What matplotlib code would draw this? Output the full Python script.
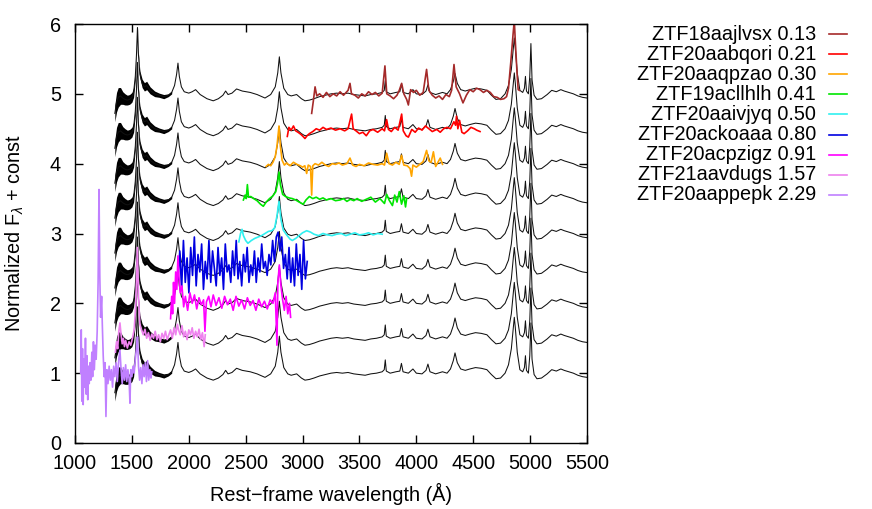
import matplotlib
matplotlib.use("Agg")
import matplotlib.pyplot as plt
from matplotlib.lines import Line2D

plt.rcParams['font.family'] = ['Liberation Sans', 'DejaVu Sans']
plt.rcParams['font.size'] = 14.3
plt.rcParams['mathtext.fontset'] = 'custom'
plt.rcParams['mathtext.rm'] = 'Liberation Sans'
plt.rcParams['mathtext.it'] = 'Liberation Sans:italic'

# composite template (offset 0), repeated with +0.5 steps
tmpl_wave = [1350, 1365, 1380, 1400, 1420, 1440, 1460, 1480, 1500, 1515, 1530, 1540, 1549, 1558, 1570,
             1590, 1610, 1630, 1660, 1700, 1740, 1780, 1820, 1850, 1875, 1893, 1905, 1917, 1935, 1960,
             2000, 2030, 2060, 2100, 2160, 2215, 2260, 2300, 2324, 2345, 2380, 2420, 2470, 2540, 2600,
             2670, 2720, 2760, 2782, 2796, 2810, 2835, 2870, 2900, 2948, 2990, 3021, 3060, 3100, 3150,
             3200, 3250, 3300, 3350, 3400, 3450, 3500, 3550, 3600, 3650, 3700, 3718, 3727, 3736, 3770,
             3820, 3855, 3869, 3883, 3930, 3970, 4000, 4050, 4085, 4102, 4120, 4170, 4230, 4270, 4300,
             4325, 4340, 4360, 4390, 4430, 4470, 4520, 4570, 4620, 4660, 4700, 4740, 4780, 4810, 4835,
             4852, 4861, 4870, 4887, 4910, 4935, 4950, 4959, 4968, 4985, 4997, 5007, 5017, 5035, 5060,
             5100, 5150, 5190, 5230, 5270, 5300, 5340, 5380, 5420, 5460, 5500]
tmpl_flux = [0.72, 0.88, 0.95, 0.97, 0.94, 0.92, 0.91, 0.92, 0.95, 1.02, 1.25, 1.55, 1.95, 1.55, 1.28,
             1.15, 1.10, 1.12, 1.05, 1.00, 0.98, 0.96, 0.98, 1.02, 1.12, 1.28, 1.44, 1.25, 1.10, 1.03,
             1.01, 1.03, 1.06, 0.99, 0.93, 0.90, 0.93, 0.98, 1.04, 0.99, 1.01, 1.07, 1.04, 1.02, 0.99,
             0.94, 0.99, 1.10, 1.30, 1.53, 1.30, 1.08, 0.99, 0.97, 0.99, 0.93, 0.90, 0.91, 0.93, 0.96,
             0.98, 1.00, 1.01, 1.00, 1.01, 0.99, 0.98, 0.97, 0.99, 1.00, 1.02, 1.05, 1.19, 1.03, 1.00,
             1.02, 1.03, 1.14, 1.02, 1.00, 1.06, 1.00, 0.99, 1.04, 1.13, 1.02, 0.99, 1.02, 1.00, 1.06,
             1.18, 1.29, 1.15, 1.06, 1.04, 1.06, 1.08, 1.07, 1.05, 0.98, 0.92, 0.93, 1.00, 1.12, 1.35,
             1.65, 1.80, 1.65, 1.30, 1.05, 1.02, 1.08, 1.25, 1.04, 1.00, 1.25, 1.72, 1.20, 0.98, 0.92,
             0.93, 0.99, 1.05, 1.03, 1.06, 1.04, 1.02, 1.00, 0.97, 0.95, 0.94]
# noisy blue end of the template (envelope)
band_wave = [1350, 1365, 1380, 1400, 1420, 1440, 1460, 1480, 1500, 1515, 1530, 1540, 1549, 1558, 1570,
             1590, 1610, 1630, 1660, 1700, 1740, 1780, 1820, 1850]
band_lo = [0.60, 0.74, 0.81, 0.85, 0.85, 0.84, 0.84, 0.85, 0.88, 0.95, 1.20, 1.52, 1.93, 1.52, 1.23,
           1.09, 1.04, 1.06, 1.00, 0.96, 0.95, 0.93, 0.96, 1.00]
band_hi = [0.84, 1.02, 1.09, 1.09, 1.03, 1.00, 0.98, 0.99, 1.02, 1.09, 1.30, 1.58, 1.97, 1.58, 1.33,
           1.21, 1.16, 1.18, 1.10, 1.04, 1.01, 0.99, 1.00, 1.04]
offsets = [0.0, 0.5, 1.0, 1.5, 2.0, 2.5, 3.0, 3.5, 4.0]

# ZTF spectra
brown_wave = [3080, 3095, 3110, 3125, 3150, 3180, 3210, 3240, 3270, 3300, 3330, 3360, 3400, 3417, 3430,
              3460, 3490, 3520, 3550, 3580, 3610, 3640, 3670, 3700, 3724, 3740, 3770, 3800, 3830, 3850,
              3871, 3890, 3915, 3930, 3950, 3975, 4000, 4030, 4060, 4090, 4110, 4140, 4170, 4200, 4230,
              4260, 4290, 4310, 4331, 4350, 4380, 4410, 4440, 4470, 4500, 4530, 4559, 4590, 4620, 4650,
              4680, 4710, 4740, 4770, 4793, 4810, 4830, 4850, 4861, 4870, 4885, 4895, 4905]
brown_flux = [4.72, 4.90, 5.10, 4.97, 5.00, 4.95, 5.02, 4.96, 5.00, 4.97, 5.03, 4.98, 5.05, 5.15, 5.00,
              4.98, 4.94, 5.00, 4.97, 5.03, 4.99, 5.02, 4.97, 5.01, 5.40, 5.00, 4.97, 4.93, 4.98, 5.05,
              5.15, 5.00, 4.92, 4.84, 5.06, 5.02, 5.05, 4.98, 5.02, 5.35, 5.05, 4.98, 4.94, 4.97, 4.92,
              4.99, 4.96, 5.05, 5.42, 5.10, 5.00, 4.87, 4.98, 5.06, 5.03, 5.08, 5.06, 5.02, 5.05, 5.02,
              4.96, 4.95, 4.92, 4.93, 4.96, 5.08, 5.45, 5.85, 6.05, 5.75, 5.30, 5.06, 5.05]

red_wave = [2866, 2880, 2900, 2920, 2940, 2960, 2985, 3010, 3021, 3040, 3060, 3090, 3120, 3150, 3180,
            3210, 3250, 3290, 3330, 3370, 3400, 3431, 3445, 3470, 3500, 3530, 3560, 3590, 3620, 3660,
            3700, 3720, 3739, 3755, 3780, 3810, 3840, 3871, 3885, 3910, 3930, 3960, 3990, 4020, 4050,
            4080, 4110, 4140, 4180, 4210, 4240, 4270, 4300, 4330, 4345, 4353, 4365, 4380, 4400, 4420,
            4450, 4480, 4510, 4530, 4560]
red_flux = [4.39, 4.52, 4.48, 4.54, 4.47, 4.45, 4.42, 4.38, 4.36, 4.40, 4.43, 4.46, 4.50, 4.48, 4.52,
            4.49, 4.51, 4.48, 4.50, 4.47, 4.50, 4.71, 4.50, 4.47, 4.43, 4.45, 4.40, 4.47, 4.49, 4.45,
            4.50, 4.47, 4.63, 4.49, 4.46, 4.52, 4.48, 4.71, 4.47, 4.40, 4.38, 4.49, 4.45, 4.51, 4.48,
            4.54, 4.50, 4.46, 4.49, 4.45, 4.50, 4.52, 4.50, 4.60, 4.55, 4.68, 4.50, 4.62, 4.45, 4.43,
            4.47, 4.52, 4.50, 4.48, 4.46]

orange_wave = [2680, 2700, 2720, 2740, 2760, 2775, 2793, 2805, 2820, 2840, 2860, 2890, 2920, 2950, 2980,
               3000, 3020, 3036, 3050, 3070, 3080, 3090, 3110, 3140, 3170, 3200, 3230, 3260, 3290, 3320,
               3350, 3390, 3417, 3440, 3470, 3500, 3540, 3580, 3620, 3660, 3700, 3720, 3739, 3760, 3790,
               3820, 3850, 3870, 3890, 3920, 3945, 3958, 3970, 4000, 4030, 4060, 4090, 4110, 4130, 4150,
               4170, 4190, 4210, 4230]
orange_flux = [3.96, 3.99, 3.97, 4.02, 4.10, 4.25, 4.54, 4.25, 4.05, 3.98, 4.01, 3.97, 4.02, 3.99, 3.97,
               3.95, 3.97, 3.86, 3.98, 3.96, 3.55, 3.97, 4.00, 3.98, 4.02, 3.98, 3.96, 4.00, 3.99, 4.01,
               3.98, 4.00, 4.08, 3.98, 3.96, 3.99, 3.97, 4.01, 3.99, 3.98, 4.00, 3.98, 4.15, 4.00, 3.98,
               4.02, 3.99, 4.12, 3.98, 3.97, 3.93, 3.82, 3.98, 3.95, 3.99, 4.03, 4.19, 4.04, 4.02, 4.17,
               3.96, 4.02, 4.08, 3.99]

green_wave = [2480, 2495, 2505, 2515, 2525, 2545, 2570, 2600, 2630, 2655, 2680, 2710, 2740, 2765, 2780,
              2793, 2805, 2825, 2850, 2880, 2910, 2940, 2970, 3006, 3030, 3060, 3090, 3120, 3150, 3180,
              3210, 3250, 3290, 3329, 3360, 3390, 3420, 3450, 3480, 3520, 3560, 3600, 3640, 3680, 3720,
              3740, 3760, 3790, 3810, 3830, 3850, 3870, 3890, 3905, 3915]
green_flux = [3.48, 3.55, 3.50, 3.70, 3.52, 3.53, 3.50, 3.47, 3.42, 3.39, 3.45, 3.50, 3.54, 3.60, 3.72,
              3.88, 3.70, 3.56, 3.53, 3.51, 3.50, 3.48, 3.45, 3.42, 3.48, 3.53, 3.50, 3.52, 3.49, 3.51,
              3.48, 3.50, 3.47, 3.48, 3.50, 3.46, 3.49, 3.47, 3.50, 3.46, 3.49, 3.52, 3.45, 3.50, 3.43,
              3.56, 3.48, 3.40, 3.55, 3.45, 3.60, 3.42, 3.54, 3.38, 3.50]

cyan_wave = [2440, 2455, 2468, 2480, 2500, 2520, 2550, 2580, 2610, 2640, 2670, 2700, 2730, 2755, 2775,
             2793, 2810, 2830, 2860, 2890, 2910, 2940, 2970, 3000, 3036, 3070, 3100, 3140, 3180, 3220,
             3260, 3300, 3340, 3380, 3420, 3460, 3500, 3540, 3580, 3620, 3660, 3700]
cyan_flux = [2.88, 3.00, 3.06, 2.97, 2.90, 2.86, 2.90, 2.93, 2.95, 2.97, 3.00, 3.03, 3.04, 3.08, 3.25,
             3.46, 3.20, 3.05, 2.98, 2.92, 2.90, 2.93, 2.97, 3.01, 3.04, 3.02, 2.99, 2.97, 3.00, 2.98,
             2.97, 2.99, 3.00, 2.97, 2.99, 3.01, 2.98, 2.99, 3.01, 2.98, 3.00, 2.99]

blue_wave = [1905, 1921, 1937, 1953, 1969, 1985, 2001, 2017, 2033, 2049, 2065, 2081, 2097, 2113, 2129,
             2145, 2161, 2177, 2193, 2209, 2225, 2241, 2257, 2273, 2289, 2305, 2321, 2337, 2353, 2369,
             2385, 2401, 2417, 2433, 2449, 2465, 2481, 2497, 2513, 2529, 2545, 2561, 2577, 2593, 2609,
             2625, 2641, 2657, 2673, 2689, 2705, 2721, 2737, 2753, 2769, 2785, 2801, 2817, 2833, 2849,
             2865, 2881, 2897, 2913, 2929, 2945, 2961, 2977, 2993, 3009, 3025, 3041]
blue_flux = [2.35, 2.75, 2.20, 2.90, 2.30, 2.65, 2.15, 2.80, 2.40, 2.95, 2.25, 2.70, 2.45, 2.85, 2.20,
             2.60, 2.35, 2.90, 2.30, 2.75, 2.50, 2.25, 2.80, 2.40, 2.65, 2.20, 2.85, 2.45, 2.55, 2.30,
             2.75, 2.40, 2.90, 2.35, 2.60, 2.25, 2.70, 2.45, 2.80, 2.30, 2.55, 2.40, 2.75, 2.30, 2.65,
             2.45, 2.85, 2.50, 2.60, 2.40, 2.70, 2.55, 2.90, 2.60, 2.95, 3.02, 2.75, 2.95, 2.50, 2.70,
             2.35, 2.80, 2.30, 2.65, 2.25, 2.85, 2.40, 2.70, 2.20, 2.90, 2.35, 2.60]

magenta_wave = [1840, 1850, 1858, 1866, 1875, 1885, 1895, 1905, 1915, 1925, 1940, 1955, 1970, 1990, 2010,
                2030, 2050, 2070, 2090, 2110, 2130, 2142, 2155, 2175, 2195, 2215, 2240, 2265, 2290, 2315,
                2340, 2365, 2390, 2415, 2440, 2465, 2490, 2515, 2540, 2565, 2590, 2615, 2640, 2665, 2690,
                2715, 2740, 2760, 2775, 2783, 2796, 2810, 2825, 2840, 2855, 2870, 2885, 2895]
magenta_flux = [1.78, 2.10, 1.85, 2.30, 2.00, 2.45, 2.20, 2.68, 2.35, 2.15, 2.25, 1.95, 2.10, 1.90, 2.15,
                2.00, 2.12, 1.92, 2.08, 1.98, 2.05, 1.60, 2.02, 2.10, 1.95, 2.12, 1.97, 2.08, 1.93, 2.10,
                1.98, 2.06, 1.90, 2.10, 1.96, 2.05, 1.92, 2.08, 1.97, 2.04, 1.90, 2.06, 1.95, 2.03, 1.92,
                2.05, 2.00, 2.15, 1.40, 2.30, 2.55, 2.25, 2.05, 1.90, 2.10, 1.85, 2.00, 1.80]

pink_wave = [1355, 1365, 1375, 1385, 1395, 1405, 1415, 1425, 1435, 1445, 1460, 1475, 1490, 1505, 1520,
             1535, 1548, 1558, 1570, 1585, 1600, 1615, 1630, 1645, 1660, 1675, 1690, 1705, 1720, 1735,
             1750, 1765, 1780, 1795, 1810, 1825, 1840, 1855, 1870, 1885, 1900, 1910, 1925, 1940, 1955,
             1970, 1985, 2000, 2015, 2030, 2045, 2060, 2075, 2090, 2105, 2120, 2135, 2145]
pink_flux = [1.30, 1.45, 1.35, 1.60, 1.72, 1.55, 1.42, 1.50, 1.38, 1.47, 1.36, 1.45, 1.40, 1.50, 1.62,
             2.00, 2.80, 2.10, 1.70, 1.62, 1.55, 1.63, 1.50, 1.58, 1.47, 1.56, 1.50, 1.60, 1.48, 1.55,
             1.45, 1.57, 1.50, 1.60, 1.48, 1.55, 1.62, 1.50, 1.65, 1.55, 1.70, 1.62, 1.55, 1.68, 1.52,
             1.60, 1.48, 1.62, 1.55, 1.65, 1.50, 1.60, 1.52, 1.63, 1.48, 1.58, 1.38, 1.55]

lav_wave = [1050, 1055, 1060, 1066, 1072, 1078, 1085, 1092, 1098, 1105, 1112, 1118, 1125, 1132, 1140,
            1148, 1155, 1162, 1170, 1178, 1186, 1195, 1203, 1211, 1218, 1225, 1234, 1240, 1248, 1256,
            1264, 1272, 1280, 1290, 1300, 1310, 1320, 1330, 1340, 1350, 1362, 1372, 1385, 1395, 1405,
            1415, 1425, 1435, 1445, 1455, 1465, 1475, 1483, 1490, 1500, 1510, 1520, 1530, 1540, 1549,
            1558, 1568, 1578, 1588, 1598, 1608, 1618, 1628, 1638, 1648, 1658, 1668, 1675]
lav_flux = [1.00, 1.62, 0.60, 1.35, 0.55, 1.20, 0.80, 1.50, 0.70, 1.25, 0.62, 1.10, 0.85, 1.15, 0.90,
            1.30, 0.95, 1.45, 1.05, 1.40, 1.20, 1.60, 2.30, 3.63, 2.40, 1.80, 2.10, 1.70, 1.25, 0.95,
            1.15, 0.38, 1.05, 0.85, 1.10, 0.90, 1.05, 0.80, 1.10, 0.95, 1.15, 0.88, 1.20, 1.33, 1.05,
            0.85, 1.08, 0.90, 1.12, 0.88, 1.05, 0.92, 0.57, 1.05, 0.95, 1.10, 1.00, 1.20, 1.35, 1.52,
            1.10, 0.90, 1.08, 0.85, 1.12, 0.95, 1.15, 0.88, 1.18, 0.90, 1.05, 0.93, 1.02]

names = ['ZTF18aajlvsx 0.13', 'ZTF20aabqori 0.21', 'ZTF20aaqpzao 0.30', 'ZTF19acllhlh 0.41',
         'ZTF20aaivjyq 0.50', 'ZTF20ackoaaa 0.80', 'ZTF20acpzigz 0.91', 'ZTF21aavdugs 1.57',
         'ZTF20aappepk 2.29']
colors = ['#a52a2a', '#ff0000', '#ffa500', '#00e600', '#30f0f0', '#0000e0', '#ff00ff', '#ee82ee', '#c080ff']

fig = plt.figure(figsize=(8.72, 5.09), dpi=100)
ax = fig.add_axes([75 / 872, 1 - 443 / 509, 512 / 872, 419 / 509])

for off in offsets:
    ax.plot(tmpl_wave, [f + off for f in tmpl_flux], color='#111111', lw=0.75)
    ax.fill_between(band_wave, [v + off for v in band_lo], [v + off for v in band_hi],
                    color='black', lw=0)

spectra = [(brown_wave, brown_flux), (red_wave, red_flux), (orange_wave, orange_flux),
           (green_wave, green_flux), (cyan_wave, cyan_flux), (blue_wave, blue_flux),
           (magenta_wave, magenta_flux), (pink_wave, pink_flux), (lav_wave, lav_flux)]
for (w, f), c in zip(spectra, colors):
    ax.plot(w, f, color=c, lw=1.2)

ax.set_xlim(1000, 5500)
ax.set_ylim(0, 6)
ax.set_xticks(range(1000, 5501, 500))
ax.set_yticks(range(0, 7))
ax.tick_params(direction='in', length=6, width=1, top=True, right=True, labelsize=14.3)
ax.tick_params(axis='x', pad=8)
ax.tick_params(axis='y', pad=10)
for s in ax.spines.values():
    s.set_linewidth(1)
ax.set_xlabel('Rest\u2212frame wavelength (\u00c5)', fontsize=14.3)
ax.set_ylabel('Normalized F$_\\lambda$ + const', fontsize=14.3)
ax.xaxis.set_label_coords(0.5, -51 / 419, transform=ax.transAxes)
ax.yaxis.set_label_coords(-60 / 512, 0.5, transform=ax.transAxes)
ax.xaxis.label.set_va('center')
ax.yaxis.label.set_va('center')

# legend, text right-aligned with sample on the right
for i, (n, c) in enumerate(zip(names, colors)):
    yy = 1 - (34 + 20.1 * i) / 509
    fig.text(816 / 872, yy, n, ha='right', va='center', fontsize=14.3)
    fig.add_artist(Line2D([829 / 872, 847 / 872], [yy, yy], color=c, lw=1.2,
                          transform=fig.transFigure))

fig.savefig('out.png', dpi=100)
